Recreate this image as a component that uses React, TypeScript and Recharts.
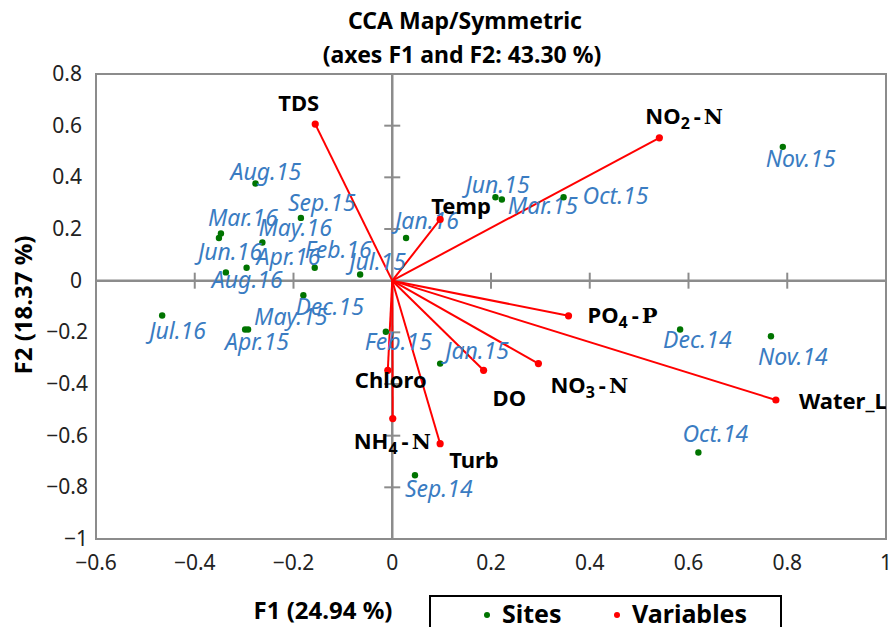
import {
  ScatterChart,
  Scatter,
  XAxis,
  YAxis,
  ReferenceLine,
  ReferenceDot,
  ReferenceArea,
} from "recharts";

// site scores (F1, F2)
const siteNames = [
  "Sep.14", "Oct.14", "Nov.14", "Dec.14", "Jan.15", "Feb.15", "Mar.15", "Apr.15",
  "May.15", "Jun.15", "Jul.15", "Aug.15", "Sep.15", "Oct.15", "Nov.15", "Dec.15",
  "Jan.16", "Feb.16", "Mar.16", "Apr.16", "May.16", "Jun.16", "Jul.16", "Aug.16",
];
const siteF1 = [
  0.046, 0.62, 0.767, 0.583, 0.097, -0.013, 0.222, -0.298,
  -0.292, 0.209, -0.065, -0.277, -0.185, 0.347, 0.791, -0.18,
  0.028, -0.157, -0.347, -0.295, -0.263, -0.351, -0.466, -0.337,
];
const siteF2 = [
  -0.753, -0.665, -0.215, -0.189, -0.321, -0.198, 0.314, -0.189,
  -0.189, 0.323, 0.024, 0.376, 0.243, 0.323, 0.518, -0.056,
  0.165, 0.05, 0.183, 0.05, 0.148, 0.165, -0.135, 0.032,
];

// variable scores (F1, F2)
const varNames = ["TDS", "Temp", "NO2-N", "PO4-P", "NO3-N", "DO", "Water_Level", "Turb", "Chloro", "NH4-N"];
const varF1 = [-0.156, 0.097, 0.541, 0.357, 0.296, 0.185, 0.777, 0.097, -0.009, 0.001];
const varF2 = [0.606, 0.237, 0.553, -0.136, -0.321, -0.347, -0.462, -0.631, -0.347, -0.534];

const xTicks = [-0.6, -0.4, -0.2, 0, 0.2, 0.4, 0.6, 0.8, 1];
const yTicks = [-1, -0.8, -0.6, -0.4, -0.2, 0, 0.2, 0.4, 0.6, 0.8];

// label placement (px from the point to the text start / baseline)
const siteLabelOffset: Record<string, [number, number]> = {
  "Sep.14": [-10, 22], "Oct.14": [-16, -10], "Nov.14": [-13, 29], "Dec.14": [-17, 19],
  "Jan.15": [5, -5], "Feb.15": [-21, 18], "Mar.15": [6, 14], "Apr.15": [-20, 21],
  "May.15": [6, -4], "Jun.15": [-30, -4], "Jul.15": [-11, -4], "Aug.15": [-25, -4],
  "Sep.15": [-13, -7], "Oct.15": [19, 7], "Nov.15": [-17, 20], "Dec.15": [-8, 20],
  "Jan.16": [-11, -9], "Feb.16": [-10, -10], "Mar.16": [-13, -7], "Apr.16": [10, -3],
  "May.16": [-4, -6], "Jun.16": [-21, 22], "Jul.16": [-13, 23], "Aug.16": [-14, 16],
};
const varLabelOffset: Record<string, [number, number]> = {
  TDS: [-37, -13], Temp: [-9, -5], "NO2-N": [-14, -14], "PO4-P": [19, 7],
  "NO3-N": [12, 29], DO: [9, 36], Water_Level: [23, 9], Turb: [9, 24],
  Chloro: [-33, 18], "NH4-N": [-39, 30],
};

const sites = siteNames.map((name, i) => ({ name, x: siteF1[i], y: siteF2[i] }));
const variables = varNames.map((name, i) => ({ name, x: varF1[i], y: varF2[i] }));

const FONT = "'Noto Sans', sans-serif";
const AXIS_GRAY = "#8c8c8c";
const SITE_GREEN = "#007400";
const SITE_BLUE = "#3a7cc2";
const VAR_RED = "#ff0000";

const fmt = (v: number) => {
  const s = Number.isInteger(v) ? String(Math.abs(v)) : Math.abs(v).toFixed(1);
  return v < 0 ? "\u2212" + s : s;
};

function VarText({ name, x, y }: { name: string; x: number; y: number }) {
  const m = name.match(/^([A-Z]+)(\d)-([A-Z])$/);
  const common = { x, y, fontFamily: FONT, fontWeight: 700, fontSize: 22, fill: "#000" };
  if (!m) return <text {...common}>{name}</text>;
  return (
    <text {...common}>
      <tspan>{m[1]}</tspan>
      <tspan dy={5} fontSize={16}>{m[2]}</tspan>
      <tspan dy={-5} dx={4}>-</tspan>
      <tspan dx={3} fontFamily="'DejaVu Serif', serif" fontSize={21}>{m[3]}</tspan>
    </text>
  );
}

const SiteShape = (p: any) => {
  const [dx, dy] = siteLabelOffset[p.payload.name] || [0, 0];
  return (
    <g>
      <circle cx={p.cx} cy={p.cy} r={3.2} fill={SITE_GREEN} />
      <text
        x={p.cx + dx}
        y={p.cy + dy}
        fontFamily={FONT}
        fontStyle="italic"
        fontSize={23}
        fill={SITE_BLUE}
      >
        {p.payload.name}
      </text>
    </g>
  );
};

const VarShape = (p: any) => {
  const [dx, dy] = varLabelOffset[p.payload.name] || [0, 0];
  return (
    <g>
      <circle cx={p.cx} cy={p.cy} r={3.6} fill={VAR_RED} />
      <VarText name={p.payload.name} x={p.cx + dx} y={p.cy + dy} />
    </g>
  );
};

const XTick = (p: any) => (
  <text x={p.x} y={570} textAnchor="middle" fontFamily={FONT} fontSize={21} fill="#222">
    {fmt(p.payload.value)}
  </text>
);

const YTick = (p: any) => (
  <text
    x={p.payload.value < 0 ? 88 : 82}
    y={p.y + 7}
    textAnchor="end"
    fontFamily={FONT}
    fontSize={21}
    fill="#222"
  >
    {fmt(p.payload.value)}
  </text>
);

const hTickMark = (p: any) => (
  <line x1={p.cx} y1={p.cy - 8} x2={p.cx} y2={p.cy + 8} stroke={AXIS_GRAY} strokeWidth={2} />
);
const vTickMark = (p: any) => (
  <line x1={p.cx - 8} y1={p.cy} x2={p.cx + 8} y2={p.cy} stroke={AXIS_GRAY} strokeWidth={2} />
);

export default function App() {
  return (
    <div
      style={{
        position: "absolute",
        left: 0,
        top: 0,
        width: 896,
        height: 627,
        overflow: "hidden",
        background: "#fff",
      }}
    >
      <ScatterChart width={896} height={627} margin={{ top: 74, right: 10, bottom: 0, left: 0 }}>
        <text x={465} y={29} textAnchor="middle" fontFamily={FONT} fontWeight={700} fontSize={23} fill="#000">
          CCA Map/Symmetric
        </text>
        <text x={462} y={63} textAnchor="middle" fontFamily={FONT} fontWeight={700} fontSize={23} fill="#000">
          (axes F1 and F2: 43.30 %)
        </text>

        <XAxis
          type="number"
          dataKey="x"
          domain={[-0.6, 1]}
          ticks={xTicks}
          height={88}
          axisLine={false}
          tickLine={false}
          tick={<XTick />}
          allowDataOverflow
          label={{
            content: () => (
              <text x={323} y={619} textAnchor="middle" fontFamily={FONT} fontWeight={700} fontSize={24} fill="#000">
                F1 (24.94 %)
              </text>
            ),
          }}
        />
        <YAxis
          type="number"
          dataKey="y"
          domain={[-1, 0.8]}
          ticks={yTicks}
          width={96}
          axisLine={false}
          tickLine={false}
          tick={<YTick />}
          allowDataOverflow
          label={{
            content: () => (
              <text
                x={32}
                y={305}
                textAnchor="middle"
                transform="rotate(-90 32 305)"
                fontFamily={FONT}
                fontWeight={700}
                fontSize={24}
                fill="#000"
              >
                F2 (18.37 %)
              </text>
            ),
          }}
        />

        <ReferenceArea x1={-0.6} x2={1} y1={-1} y2={0.8} fill="none" stroke={AXIS_GRAY} strokeWidth={2} />
        <ReferenceLine x={0} stroke={AXIS_GRAY} strokeWidth={2.5} />
        <ReferenceLine y={0} stroke={AXIS_GRAY} strokeWidth={2.5} />
        {xTicks.filter((t) => t !== 0).map((t) => (
          <ReferenceDot key={"xt" + t} x={t} y={0} shape={hTickMark} />
        ))}
        {yTicks.filter((t) => t !== 0).map((t) => (
          <ReferenceDot key={"yt" + t} x={0} y={t} shape={vTickMark} />
        ))}

        {variables.map((v) => (
          <ReferenceLine
            key={"vec" + v.name}
            segment={[{ x: 0, y: 0 }, { x: v.x, y: v.y }]}
            stroke={VAR_RED}
            strokeWidth={2}
          />
        ))}

        <Scatter name="Sites" data={sites} shape={SiteShape} isAnimationActive={false} />
        <Scatter name="Variables" data={variables} shape={VarShape} isAnimationActive={false} />
      </ScatterChart>

      <div
        style={{
          position: "absolute",
          left: 429,
          top: 595,
          width: 353,
          height: 44,
          border: "2px solid #000",
          boxSizing: "border-box",
          fontFamily: FONT,
          fontWeight: 700,
          fontSize: 25,
          color: "#000",
        }}
      >
        <span style={{ position: "absolute", left: 53, top: 15, width: 6, height: 6, borderRadius: 3, background: SITE_GREEN }} />
        <span style={{ position: "absolute", left: 71, top: -1 }}>Sites</span>
        <span style={{ position: "absolute", left: 183, top: 15, width: 6, height: 6, borderRadius: 3, background: VAR_RED }} />
        <span style={{ position: "absolute", left: 201, top: -1 }}>Variables</span>
      </div>
    </div>
  );
}
